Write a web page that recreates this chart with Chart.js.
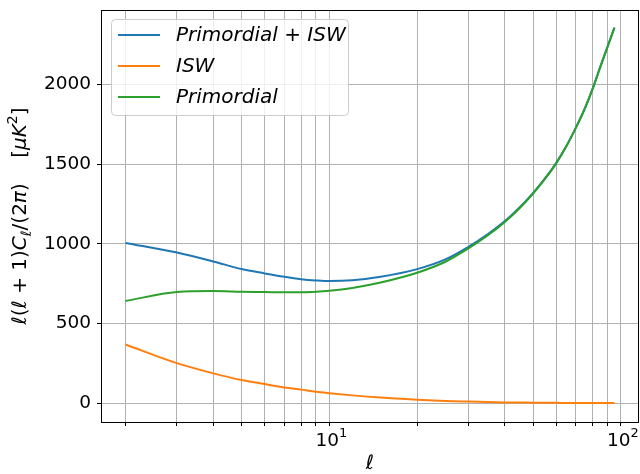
<!DOCTYPE html>
<html>
<head>
<meta charset="utf-8">
<script src="https://cdn.jsdelivr.net/npm/chart.js@4/dist/chart.umd.min.js"></script>
<style>
html, body { margin: 0; padding: 0; background: #fff; }
#wrap { width: 640px; height: 474px; }
</style>
</head>
<body>
<div id="wrap"><canvas id="clChart" width="640" height="474"></canvas></div>
<script>
// multipoles and the three spectra (muK^2)
const ells = [2, 3, 4, 5, 6, 7, 8, 9, 10, 12, 15, 20, 25, 30, 35, 40, 45, 50, 55, 60, 65, 70, 75, 80, 85, 90, 95];
const primordialIsw = [1006, 946, 890, 842, 815, 794, 779, 771, 767, 772, 794, 842, 903, 982, 1062, 1143, 1230, 1320, 1412, 1508, 1614, 1728, 1845, 1974, 2112, 2238, 2357];
const isw = [369, 252, 188, 146, 121, 100, 86, 73, 64, 50, 36, 23, 15, 11, 8, 6, 5, 4, 3.5, 3, 2.5, 2.2, 2, 1.8, 1.6, 1.5, 1.4];
const primordial = [642, 698, 704, 700, 698, 696, 697, 700, 706, 724, 758, 819, 888, 972, 1054, 1137, 1225, 1316, 1409, 1505, 1612, 1726, 1843, 1972, 2110, 2236, 2356];

const seriesNames = ['Primordial + ISW', 'ISW', 'Primordial'];
const seriesColors = ['#1f77b4', '#ff7f0e', '#2ca02c'];

const xTicks = [2, 3, 4, 5, 6, 7, 8, 9, 10, 20, 30, 40, 50, 60, 70, 80, 90, 100];
const xMajor = [10, 100];
const yTicks = [0, 500, 1000, 1500, 2000];

const FONT = "'DejaVu Sans', sans-serif";

function toPoints(arr) {
    return ells.map((l, i) => ({ x: l, y: arr[i] }));
}

// draws a row of text pieces (normal / italic / sub / sup) centred on (cx, cy)
function drawRich(ctx, parts, cx, cy, size) {
    const fontOf = p => (p.it ? 'italic ' : '') + (p.small ? size * 0.7 : size) + 'px ' + FONT;
    let total = 0;
    parts.forEach(p => { ctx.font = fontOf(p); p.w = ctx.measureText(p.t).width; total += p.w; });
    let x = cx - total / 2;
    ctx.textBaseline = 'middle';
    ctx.textAlign = 'left';
    parts.forEach(p => {
        ctx.font = fontOf(p);
        const dy = p.sub ? size * 0.3 : (p.sup ? -size * 0.4 : 0);
        ctx.fillText(p.t, x, cy + dy);
        x += p.w;
    });
}

const decorPlugin = {
    id: 'decor',
    afterDraw(chart) {
        const { ctx, chartArea: a } = chart;
        ctx.save();

        // axes frame
        ctx.strokeStyle = '#000';
        ctx.lineWidth = 1;
        const l = Math.round(a.left) + 0.5, t = Math.round(a.top) + 0.5;
        const r = Math.round(a.right) - 0.5, b = Math.round(a.bottom) + 0.5;
        ctx.strokeRect(l, t, r - l, b - t);

        // x tick labels 10^1, 10^2
        ctx.fillStyle = '#000';
        const xs = chart.scales.x;
        xMajor.forEach(v => {
            const px = xs.getPixelForValue(v);
            drawRich(ctx, [{ t: '10' }, { t: String(Math.log10(v)), small: true, sup: true }], px + 2, 441, 18.5);
        });

        // legend box
        const bx = 111, by = 19, bw = 237, bh = 96, rad = 4;
        ctx.beginPath();
        ctx.roundRect(bx + 0.5, by + 0.5, bw, bh, rad);
        ctx.fillStyle = 'rgba(255,255,255,0.8)';
        ctx.fill();
        ctx.strokeStyle = '#cccccc';
        ctx.lineWidth = 1;
        ctx.stroke();
        const rows = [35, 66, 97];
        seriesNames.forEach((name, i) => {
            ctx.strokeStyle = seriesColors[i];
            ctx.lineWidth = 2;
            ctx.beginPath();
            ctx.moveTo(118, rows[i]);
            ctx.lineTo(160, rows[i]);
            ctx.stroke();
            ctx.fillStyle = '#000';
            ctx.font = 'italic 20px ' + FONT;
            ctx.textAlign = 'left';
            ctx.textBaseline = 'middle';
            ctx.fillText(name, 176, rows[i] + 1);
        });

        // axis titles
        ctx.fillStyle = '#000';
        ctx.font = 'italic 20px ' + FONT;
        ctx.textAlign = 'center';
        ctx.textBaseline = 'middle';
        ctx.fillText('\u2113', (a.left + a.right) / 2, 464);

        ctx.translate(21, (a.top + a.bottom) / 2);
        ctx.rotate(-Math.PI / 2);
        drawRich(ctx, [
            { t: '\u2113', it: true }, { t: '(' }, { t: '\u2113', it: true }, { t: ' + 1)' },
            { t: 'C', it: true }, { t: '\u2113', it: true, small: true, sub: true },
            { t: '/(2' }, { t: '\u03c0', it: true }, { t: ')' },
            { t: '    [' }, { t: '\u03bcK', it: true }, { t: '2', small: true, sup: true }, { t: ']' }
        ], 0, 0, 20);
        ctx.restore();
    }
};

const ctx = document.getElementById('clChart').getContext('2d');
const clChart = new Chart(ctx, {
    type: 'line',
    data: {
        datasets: [primordialIsw, isw, primordial].map((arr, i) => ({
            label: seriesNames[i],
            data: toPoints(arr),
            borderColor: seriesColors[i],
            backgroundColor: seriesColors[i],
            borderWidth: 2,
            pointRadius: 0,
            cubicInterpolationMode: 'monotone',
            fill: false,
            order: 2 - i
        }))
    },
    options: {
        responsive: false,
        devicePixelRatio: 1,
        animation: false,
        layout: { padding: { top: 10, right: 1, left: 0, bottom: 0 } },
        plugins: {
            legend: { display: false },
            tooltip: { enabled: false },
            title: { display: false }
        },
        scales: {
            x: {
                type: 'logarithmic',
                min: Math.pow(10, 0.217),
                max: Math.pow(10, 2.062),
                border: { display: false },
                grid: { color: '#b0b0b0', lineWidth: 1, tickColor: '#000', tickLength: 4, tickWidth: 1 },
                ticks: { display: false, autoSkip: false, maxRotation: 0 },
                afterBuildTicks: scale => {
                    scale.ticks = xTicks.map(v => ({ value: v }));
                },
                afterFit: scale => {
                    scale.height = 52;
                    scale.paddingLeft = 0;
                    scale.paddingRight = 0;
                }
            },
            y: {
                min: -117,
                max: 2467,
                border: { display: false },
                grid: { color: '#b0b0b0', lineWidth: 1, tickColor: '#000', tickLength: 4, tickWidth: 1 },
                ticks: {
                    padding: 6,
                    color: '#000',
                    font: { family: FONT, size: 18.5 },
                    callback: v => String(v)
                },
                afterBuildTicks: scale => {
                    scale.ticks = yTicks.map(v => ({ value: v }));
                },
                afterFit: scale => {
                    scale.width = 101;
                    scale.paddingTop = 0;
                    scale.paddingBottom = 0;
                }
            }
        }
    },
    plugins: [decorPlugin]
});
</script>
</body>
</html>
